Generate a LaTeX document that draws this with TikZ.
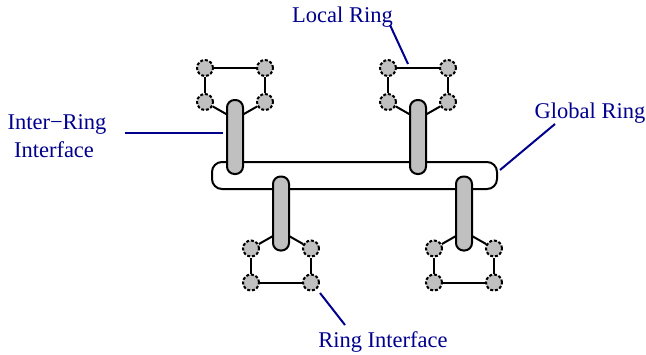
\documentclass[tikz,border=0pt]{standalone}
\usepackage{fontspec}
\setmainfont{Liberation Serif}
\usetikzlibrary{calc}
\definecolor{navyink}{RGB}{0,0,140}
\definecolor{ifgray}{RGB}{192,192,192}
\begin{document}
\begin{tikzpicture}[x=1pt,y=-1pt,
  wire/.style={line width=2pt},
  station/.style={circle, draw, dash pattern=on 3pt off 1.8pt, line width=2pt,
                  fill=ifgray, minimum size=16pt, inner sep=0pt},
  bridge/.style={draw, line width=2pt, fill=ifgray, rounded corners=7.5pt,
                 minimum width=16pt, minimum height=74pt, inner sep=0pt},
  backbone/.style={draw, line width=2pt, rounded corners=10pt,
                   minimum width=285pt, minimum height=27pt, inner sep=0pt},
  callout/.style={navyink, line width=2pt},
  tag/.style={text=navyink, font=\fontsize{22.5}{28}\selectfont, inner sep=0pt, anchor=base, align=center}]
\useasboundingbox (0,0) rectangle (646,354);

% global ring
\node[backbone] (global) at (354.5,175.5) {};

% local rings hanging off the global ring through inter-ring interfaces
\foreach \i/\cx/\cy/\s in {1/235/137/-1, 2/418/137/-1, 3/281/213.5/1, 4/464/213.5/1} {
  \node[bridge] (cap\i) at (\cx,\cy) {};
  \node[station] (a\i) at (\cx-30,\cy+\s*69) {};
  \node[station] (b\i) at (\cx+30,\cy+\s*69) {};
  \node[station] (c\i) at (\cx-30,\cy+\s*35) {};
  \node[station] (d\i) at (\cx+30,\cy+\s*35) {};
  \coordinate (cl\i) at (\cx-8,\cy+\s*22.5);
  \coordinate (cr\i) at (\cx+8,\cy+\s*22.5);
  \draw[wire] (a\i) -- (b\i);
  \draw[wire] (a\i) -- (c\i);
  \draw[wire] (b\i) -- (d\i);
  \draw[wire] (c\i) -- (cl\i);
  \draw[wire] (d\i) -- (cr\i);
}

% labels
\node[tag] (lbl-local) at (342.5,22) {Local Ring};
\node[tag] (lbl-global) at (590,118) {Global Ring};
\node[tag] (lbl-inter) at (57,129) {Inter\textminus Ring};
\node[tag] (lbl-inter2) at (54,157) {Interface};
\node[tag] (lbl-ringif) at (383,347) {Ring Interface};

% leaders
\coordinate (p-local-a) at (390,25);
\coordinate (p-local-b) at (408,64);
\coordinate (p-global-a) at (555,124);
\coordinate (p-global-b) at (500,170);
\coordinate (p-inter-a) at (125,133);
\coordinate (p-inter-b) at (223,133);
\coordinate (p-ringif-a) at (320,293);
\coordinate (p-ringif-b) at (345,325);
\draw[callout] (p-local-a) -- (p-local-b);
\draw[callout] (p-global-a) -- (p-global-b);
\draw[callout] (p-inter-a) -- (p-inter-b);
\draw[callout] (p-ringif-a) -- (p-ringif-b);
\end{tikzpicture}
\end{document}
